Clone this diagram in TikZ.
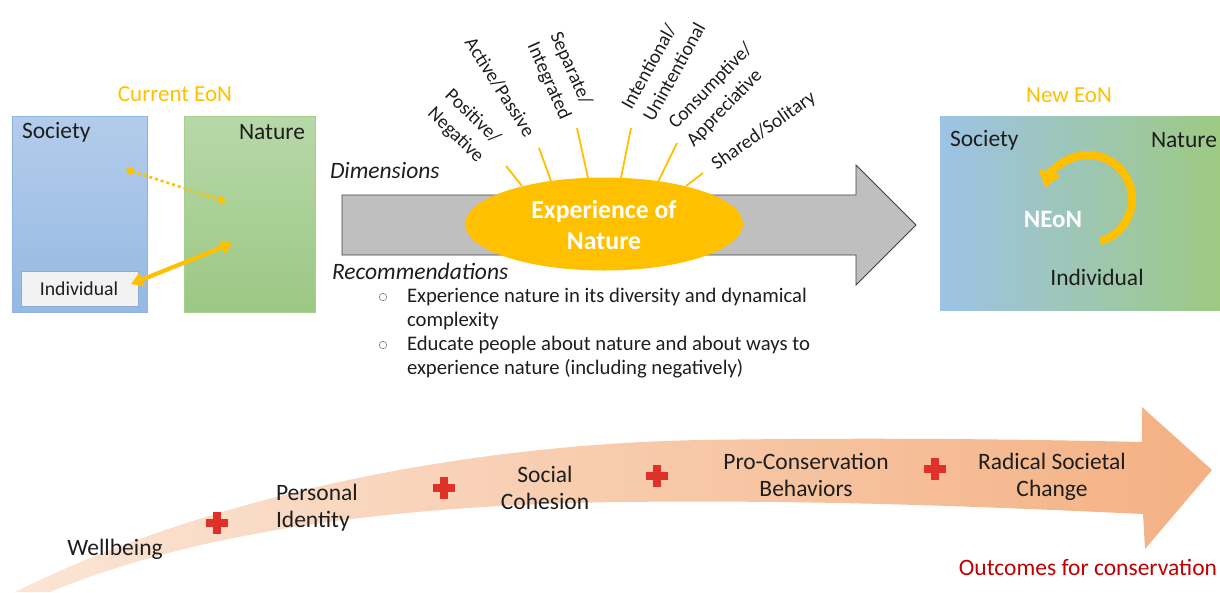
\documentclass[tikz,border=0pt]{standalone}
\usepackage{fontspec}
\setmainfont{Carlito}
\usetikzlibrary{arrows.meta,shapes.geometric,calc}
\definecolor{eonorange}{HTML}{FFC000}
\definecolor{txt}{HTML}{1E1E1E}
\definecolor{socTop}{HTML}{B3CCEB}
\definecolor{socBot}{HTML}{95B9E2}
\definecolor{socLine}{HTML}{8FB4DE}
\definecolor{natTop}{HTML}{B7D8A9}
\definecolor{natBot}{HTML}{9CC784}
\definecolor{natLine}{HTML}{A6CF8D}
\definecolor{indFill}{HTML}{F2F2F2}
\definecolor{indLine}{HTML}{8FAADC}
\definecolor{arrowgray}{HTML}{BFBFBF}
\definecolor{arrowline}{HTML}{404040}
\definecolor{newLeft}{HTML}{9DC3E6}
\definecolor{newMid}{HTML}{C5E0B4}
\definecolor{newRight}{HTML}{9DCA83}
\definecolor{bandLeft}{HTML}{FBE5D6}
\definecolor{bandRight}{HTML}{F4B183}
\definecolor{plusred}{HTML}{E0302A}
\definecolor{outred}{HTML}{C00000}
\definecolor{bulletgray}{HTML}{7F7F7F}
\tikzset{
  lbl/.style={font=\fontsize{23.5}{27}\selectfont, text=txt},
  bodytxt/.style={font=\fontsize{20.7}{24}\selectfont, text=txt},
  itlbl/.style={font=\fontsize{23.5}{27}\selectfont\itshape, text=txt},
  dimlbl/.style={font=\fontsize{19.5}{25}\selectfont, text=txt, align=left},
  titlelbl/.style={font=\fontsize{23}{27}\selectfont, text=eonorange},
  ray/.style={draw=eonorange, line width=1.8pt},
  bulletdot/.style={circle, draw=bulletgray, line width=0.6pt, minimum size=7.5pt, inner sep=0pt},
  redplus/.pic={
    \fill[plusred] (-11,-3.6) rectangle (11,3.6);
    \fill[plusred] (-3.6,-11) rectangle (3.6,11);
  }
}
\begin{document}
\begin{tikzpicture}[x=1pt,y=-1pt, every node/.style={inner sep=0pt, outer sep=0pt}]
\useasboundingbox (0,0) rectangle (1220,592);

% ---------- Current EoN ----------
\node[titlelbl] (curtitle) at (175,94) {Current EoN};
\node[anchor=north west, draw=socLine, line width=0.8pt, top color=socTop, bottom color=socBot,
      minimum width=135pt, minimum height=196pt] (soc) at (12,116) {};
\node[anchor=north west, draw=natLine, line width=0.8pt, top color=natTop, bottom color=natBot,
      minimum width=131pt, minimum height=196pt] (nat) at (184,116) {};
\node[lbl, anchor=west] (soclbl) at (22,132) {Society};
\node[lbl, anchor=east] (natlbl) at (305,132) {Nature};
\node[anchor=north west, draw=indLine, line width=0.8pt, fill=indFill,
      minimum width=117pt, minimum height=35pt] (ind) at (21,271) {};
\node[font=\fontsize{19.7}{23}\selectfont, text=txt] (indlbl) at (79,289) {Individual};

\coordinate (dA) at (125,169);
\coordinate (dB) at (227,202);
\draw[eonorange, line width=2.6pt, dash pattern=on 3pt off 3pt,
      {Triangle[width=9pt,length=8pt]}-{Triangle[width=9pt,length=8pt]}] (dA) -- (dB);
\coordinate (tA) at (131,284);
\coordinate (tB) at (233,243);
\draw[eonorange, line width=4.2pt,
      {Triangle[width=14pt,length=12pt]}-{Triangle[width=14pt,length=12pt]}] (tA) -- (tB);

% ---------- big gray arrow ----------
\draw[fill=arrowgray, draw=arrowline, line width=0.9pt]
  (342,195) -- (856,195) -- (856,165) -- (916,225) -- (856,285) -- (856,255) -- (342,255) -- cycle;

% rays
\draw[ray] (506,166) -- (522,186);
\draw[ray] (539,148) -- (551,181);
\draw[ray] (577,128) -- (588,178);
\draw[ray] (631,128) -- (621,178);
\draw[ray] (677,143) -- (658,182);
\draw[ray] (703,173) -- (686,186);

% ellipse
\node[ellipse, fill=eonorange, minimum width=278pt, minimum height=93pt] (eon) at (604,224) {};
\node[font=\bfseries\fontsize{25.8}{31}\selectfont, text=white, align=center] (eonlbl) at (604,225)
  {Experience of\\Nature};

% dimension labels
\node[dimlbl, rotate=-44] (d1) at (464,126) {Positive/\\Negative};
\node[dimlbl, rotate=-57.5] (d2) at (500,87) {Active/Passive};
\node[dimlbl, rotate=-66] (d3) at (560,76) {Separate/\\Integrated};
\node[dimlbl, rotate=61] (d4) at (663,66) {Intentional/\\Unintentional};
\node[dimlbl, rotate=46] (d5) at (720,95) {Consumptive/\\Appreciative};
\node[dimlbl, rotate=35] (d6) at (764,131) {Shared/Solitary};

\node[itlbl, anchor=west] (dims) at (330,170) {Dimensions};
\node[itlbl, anchor=west] (recs) at (332,271) {Recommendations};

\node[bulletdot] (b1) at (383,297) {};
\node[bulletdot] (b2) at (383,345) {};
\node[bodytxt, anchor=west] (r1) at (407,297) {Experience nature in its diversity and dynamical};
\node[bodytxt, anchor=west] (r1b) at (407,321) {complexity};
\node[bodytxt, anchor=west] (r2) at (407,345) {Educate people about nature and about ways to};
\node[bodytxt, anchor=west] (r2b) at (407,369) {experience nature (including negatively)};

% ---------- New EoN ----------
\node[titlelbl] (newtitle) at (1069,95) {New EoN};
\node[anchor=north west, left color=newLeft, middle color=newMid, right color=newRight,
      minimum width=280pt, minimum height=194pt] (newbox) at (940,116) {};
\node[lbl, anchor=west] (nsoc) at (950,140) {Society};
\node[lbl, anchor=east] (nnat) at (1217,140) {Nature};
\node[lbl] (nind) at (1097,277) {Individual};
\node[font=\bfseries\fontsize{25}{30}\selectfont, text=white] (neon) at (1053,219) {NEoN};
\coordinate (cc) at (1088,199);
\draw[eonorange, line width=8pt, -{Triangle[width=23pt,length=16pt]}]
  ($(cc)+(-74:44pt)$) arc[start angle=-74, end angle=165, radius=44pt];

% ---------- bottom band ----------
\path[left color=bandLeft, right color=bandRight]
  (15,592) .. controls (200,500) and (450,445) .. (700,440)
  .. controls (900,437) and (1050,440) .. (1142,442)
  -- (1142,407) -- (1212,470) -- (1145,549) -- (1143,514)
  .. controls (950,505) and (800,500) .. (620,502)
  .. controls (400,505) and (200,530) .. (50,592) -- cycle;

\pic at (217,523) {redplus};
\pic at (444,488) {redplus};
\pic at (657,476) {redplus};
\pic at (935,469) {redplus};

\node[lbl] (wb) at (115,549) {Wellbeing};
\node[lbl, align=left, anchor=west] (pi) at (276,508) {Personal\\Identity};
\node[lbl, align=center] (sc) at (545,488) {Social\\Cohesion};
\node[lbl, align=center] (pcb) at (806,475) {Pro-Conservation\\Behaviors};
\node[lbl, align=center] (rsc) at (1052,477) {Radical Societal\\Change};
\node[lbl, text=outred, anchor=east] (out) at (1217,567) {Outcomes for conservation};
\end{tikzpicture}
\end{document}
